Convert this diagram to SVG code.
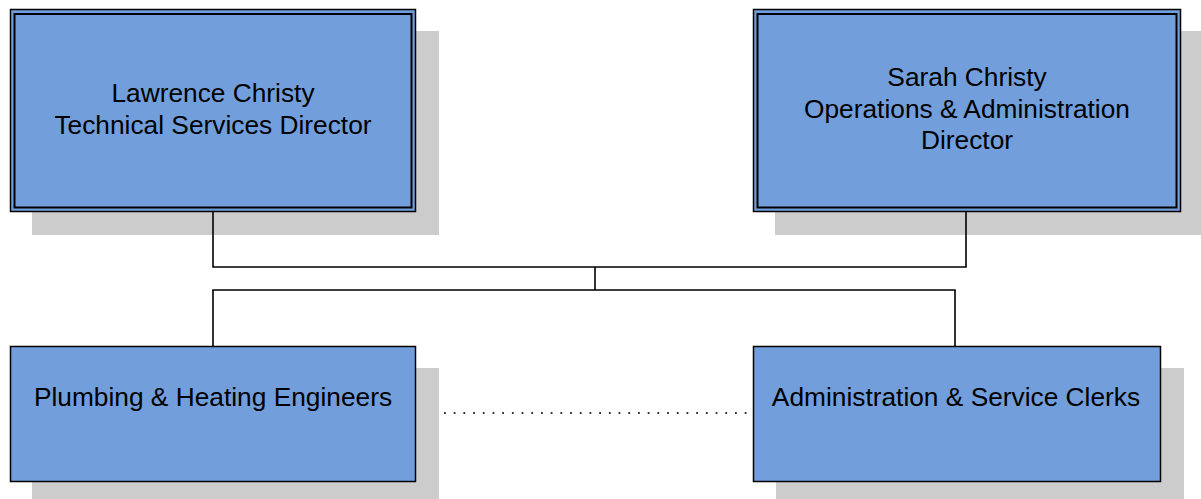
<svg xmlns="http://www.w3.org/2000/svg" width="1201" height="499" viewBox="0 0 1201 499">
  <style>
    .shadow { fill: #cccccc; }
    .box { fill: #729fdb; stroke: #000; stroke-width: 1.5; }
    .inner { fill: none; stroke: #000; stroke-width: 2; }
    .label { font-family: "Liberation Sans", Arial, sans-serif; font-size: 26.3px; fill: #000; text-anchor: middle; }
    .wire { fill: none; stroke: #000; stroke-width: 1.6; }
    .dotted { fill: none; stroke: #333; stroke-width: 1.8; stroke-dasharray: 1.8 7.9; }
  </style>
  <rect width="1201" height="499" fill="#fff"/>

  <!-- directors -->
  <g id="technical-director">
    <rect class="shadow" x="32" y="31" width="407" height="204"/>
    <rect class="box" x="10.5" y="9.5" width="405" height="202"/>
    <rect class="inner" x="14.5" y="14" width="397" height="193.5"/>
    <text class="label" x="213" y="102">Lawrence Christy</text>
    <text class="label" x="213" y="134">Technical Services Director</text>
  </g>
  <g id="operations-director">
    <rect class="shadow" x="775" y="31" width="426" height="204"/>
    <rect class="box" x="753.5" y="9.5" width="427" height="202"/>
    <rect class="inner" x="757.5" y="14" width="419" height="193.5"/>
    <text class="label" x="967" y="86">Sarah Christy</text>
    <text class="label" x="967" y="118">Operations &amp; Administration</text>
    <text class="label" x="967" y="149">Director</text>
  </g>

  <!-- teams -->
  <g id="engineers">
    <rect class="shadow" x="32" y="368" width="407" height="131"/>
    <rect class="box" x="10.5" y="346.5" width="405" height="135"/>
    <text class="label" x="213" y="406">Plumbing &amp; Heating Engineers</text>
  </g>
  <g id="clerks">
    <rect class="shadow" x="776" y="368" width="408" height="131"/>
    <rect class="box" x="753.5" y="346.5" width="407" height="135"/>
    <text class="label" x="956" y="406">Administration &amp; Service Clerks</text>
  </g>

  <!-- connectors -->
  <g id="connectors">
    <path class="wire" d="M213 212 V267 H966 V212"/>
    <path class="wire" d="M595 267 V290"/>
    <path class="wire" d="M213 346 V290 H955 V346"/>
    <path class="dotted" d="M444 413 H752"/>
  </g>
</svg>
